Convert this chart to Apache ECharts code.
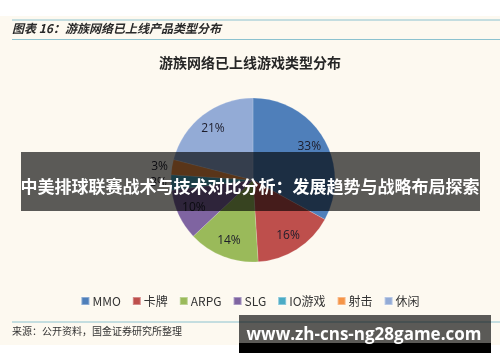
<!DOCTYPE html>
<html>
<head>
<meta charset="utf-8">
<script src="https://cdn.jsdelivr.net/npm/echarts@6/dist/echarts.min.js"></script>
<style>
  html, body { margin: 0; padding: 0; background: #fff; }
  #main { width: 500px; height: 362px; }
</style>
</head>
<body>
<div id="main"></div>
<script>
// 游戏类型 & 占比(%)
var categories = ['MMO', '卡牌', 'ARPG', 'SLG', 'IO游戏', '射击', '休闲'];
var shares = [33, 16, 14, 10, 3, 3, 21];
var colors = ['#4f7fba', '#be4f4c', '#9aba5a', '#7f64a1', '#4babc5', '#f59447', '#93abd6'];

var cx = 253, cy = 180, r = 82;
var cjk = '"Noto Sans CJK SC", "Noto Sans", sans-serif';

function pieData(forLabels) {
  return categories.map(function (name, i) {
    var small = shares[i] < 5;
    var item = { name: name, value: shares[i] };
    if (forLabels) {
      item.label = { show: !small };
    } else {
      item.label = { show: small };
    }
    return item;
  });
}

var chart = echarts.init(document.getElementById('main'), null, { renderer: 'canvas' });

var option = {
  backgroundColor: '#fff',
  color: colors,
  animation: false,
  title: {
    text: '游族网络已上线游戏类型分布',
    left: 'center',
    top: 51,
    textStyle: { fontFamily: cjk, fontSize: 14, fontWeight: 'bold', color: '#262626' }
  },
  legend: {
    data: categories,
    left: 'center',
    top: 290,
    icon: 'rect',
    itemWidth: 8,
    itemHeight: 8,
    itemGap: 11,
    textStyle: { fontFamily: cjk, fontSize: 12, color: '#333', padding: [0, 0, 0, -2] }
  },
  series: [{
    name: '占比',
    type: 'pie',
    center: [cx, cy],
    radius: [0, r],
    startAngle: 90,
    clockwise: true,
    silent: true,
    itemStyle: { borderColor: 'rgba(255,255,255,0.35)', borderWidth: 0.5 },
    label: {
      position: 'outside',
      formatter: '{c}%',
      fontFamily: '"Open Sans", sans-serif',
      fontSize: 12,
      color: '#1d1d2b',
      distanceToLabelLine: 3
    },
    labelLine: { show: false, length: 1, length2: 0 },
    data: pieData(false),
    z: 2
  }, {
    // 仅用于放置扇区内部标签
    name: '标签',
    type: 'pie',
    center: [cx, cy],
    radius: [0, r * 1.52],
    startAngle: 90,
    clockwise: true,
    silent: true,
    legendHoverLink: false,
    itemStyle: { color: 'rgba(0,0,0,0)' },
    label: {
      position: 'inside',
      formatter: '{c}%',
      fontFamily: '"Open Sans", sans-serif',
      fontSize: 12,
      color: '#1d1d2b'
    },
    labelLine: { show: false },
    data: pieData(true),
    z: 3
  }],
  graphic: [
    // 奶油色底
    { type: 'rect', z: -10, shape: { x: 0, y: 16, width: 500, height: 329 }, style: { fill: '#fdf9f0' } },
    { type: 'line', shape: { x1: 12, y1: 20, x2: 500, y2: 20 }, style: { stroke: '#8cc2cf', lineWidth: 1 } },
    { type: 'line', shape: { x1: 12, y1: 39.5, x2: 500, y2: 39.5 }, style: { stroke: '#8cc2cf', lineWidth: 1 } },
    { type: 'line', shape: { x1: 12, y1: 322, x2: 500, y2: 322 }, style: { stroke: '#8cc2cf', lineWidth: 1 } },
    {
      type: 'text', left: 12, top: 22,
      style: { text: '图表 16：游族网络已上线产品类型分布', fontFamily: cjk, fontSize: 12, fontWeight: 'bold', fontStyle: 'italic', fill: '#2a2a2a' }
    },
    {
      type: 'text', left: 12, top: 326,
      style: { text: '来源：公开资料，国金证券研究所整理', fontFamily: cjk, fontSize: 10, fill: '#333' }
    },
    // 横幅遮罩
    { type: 'rect', z: 100, shape: { x: 21, y: 152, width: 459, height: 59 }, style: { fill: 'rgba(0,0,0,0.64)' } },
    {
      type: 'text', z: 101, x: 250, y: 187,
      style: { text: '中美排球联赛战术与技术对比分析：发展趋势与战略布局探索', fontFamily: cjk, fontSize: 17, fontWeight: 'bold', fill: '#fff', align: 'center', verticalAlign: 'middle' }
    },
    // 水印
    { type: 'rect', z: 100, shape: { x: 239, y: 315, width: 252, height: 28 }, style: { fill: 'rgba(0,0,0,0.64)' } },
    { type: 'rect', z: 100, shape: { x: 239, y: 343, width: 252, height: 10 }, style: { fill: '#000' } },
    {
      type: 'text', z: 101, x: 364, y: 335,
      style: { text: 'www.zh-cns-ng28game.com', fontFamily: '"Open Sans", sans-serif', fontSize: 17, fontWeight: 'bold', fill: '#fff', align: 'center', verticalAlign: 'middle' }
    }
  ]
};

chart.setOption(option);
</script>
</body>
</html>
